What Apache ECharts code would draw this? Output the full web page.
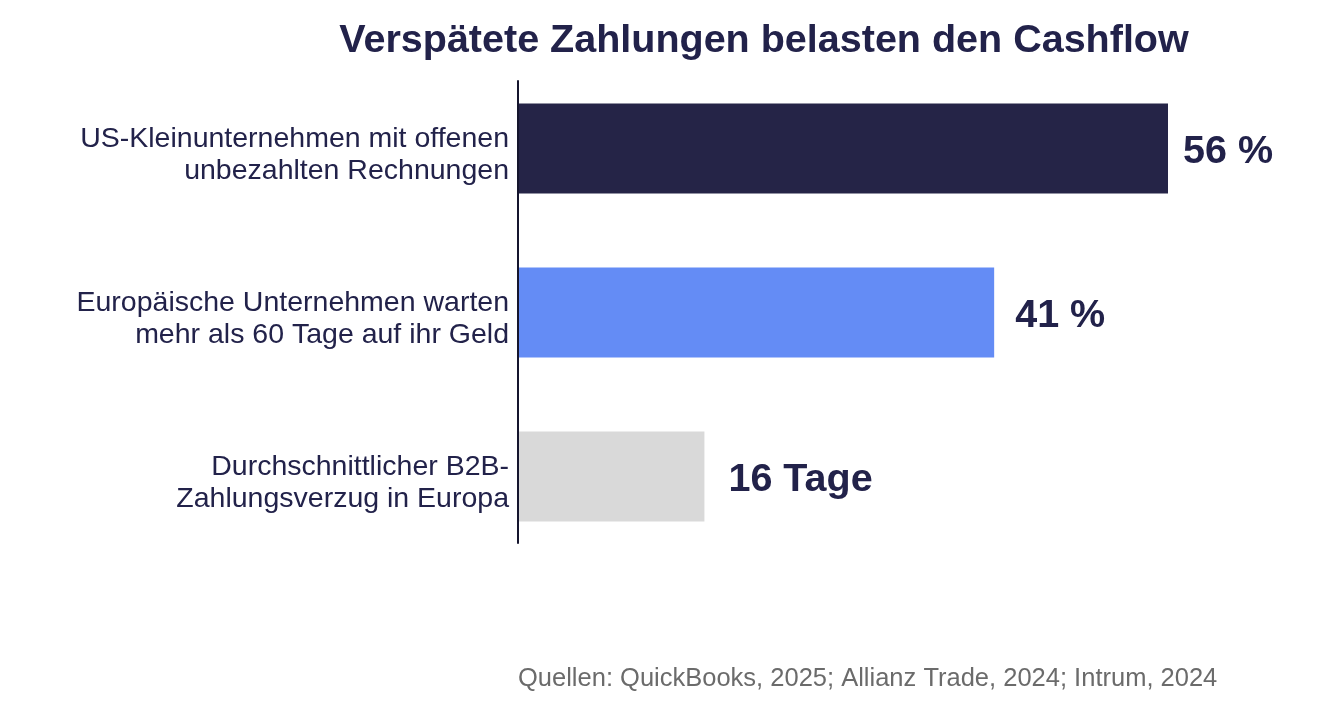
<!DOCTYPE html>
<html>
<head>
<meta charset="utf-8">
<script src="https://cdn.jsdelivr.net/npm/echarts@6/dist/echarts.min.js"></script>
<style>html,body{margin:0;padding:0;background:#fff;}#c{width:1324px;height:705px;}</style>
</head>
<body>
<div id="c"></div>
<script>
var categories = [
  'US-Kleinunternehmen mit offenen\nunbezahlten Rechnungen',
  'Europäische Unternehmen warten\nmehr als 60 Tage auf ihr Geld',
  'Durchschnittlicher B2B-\nZahlungsverzug in Europa'
];
var values = [56, 41, 16];
var valueLabels = ['56 %', '41 %', '16 Tage'];
var title = 'Verspätete Zahlungen belasten den Cashflow';
var source = 'Quellen: QuickBooks, 2025; Allianz Trade, 2024; Intrum, 2024';

var barColors = ['#252447', '#648cf5', '#d9d9d9'];
var labelDistances = [15, 21, 24];
var textColor = '#22224a';
var font = '"Liberation Sans", Arial, sans-serif';

var chart = echarts.init(document.getElementById('c'), null, {renderer: 'canvas'});
var seriesData = values.map(function (v, i) {
  return {
    value: v,
    itemStyle: {color: barColors[i]},
    label: {distance: labelDistances[i]}
  };
});
var gridRight = 1324 - 519 - 60 * (1168 - 519) / 56;

chart.setOption({
  backgroundColor: '#ffffff',
  animation: false,
  title: [{
    text: title,
    left: 764, top: 21, textAlign: 'center', padding: 0,
    textStyle: {fontFamily: font, fontSize: 39.5, fontWeight: 'bold', color: textColor}
  }, {
    text: source,
    left: 518, top: 666, padding: 0,
    textStyle: {fontFamily: font, fontSize: 25.5, fontWeight: 'normal', color: '#6b6b6b'}
  }],
  grid: [
    {left: 519, right: gridRight, top: 66.5, bottom: 146.5},
    {left: 518, right: gridRight, top: 81, bottom: 162},
    {left: 519, right: gridRight, top: 73.5, bottom: 139.5}
  ],
  xAxis: [
    {type: 'value', gridIndex: 0, min: 0, max: 60, show: false},
    {type: 'value', gridIndex: 1, min: 0, max: 60, show: false},
    {type: 'value', gridIndex: 2, min: 0, max: 60, show: false}
  ],
  yAxis: [
    {
      type: 'category', gridIndex: 0, inverse: true, data: categories,
      axisLine: {show: false}, axisTick: {show: false}, axisLabel: {show: false}
    },
    {
      type: 'category', gridIndex: 1, data: [''],
      axisLine: {show: true, lineStyle: {color: '#15152e', width: 2}},
      axisTick: {show: false}, axisLabel: {show: false}
    },
    {
      type: 'category', gridIndex: 2, inverse: true, data: categories,
      axisLine: {show: false}, axisTick: {show: false},
      axisLabel: {
        fontFamily: font, fontSize: 28.5, color: textColor, lineHeight: 32,
        align: 'right', margin: 10
      }
    }
  ],
  series: [{
    type: 'bar', xAxisIndex: 0, yAxisIndex: 0,
    data: seriesData,
    barWidth: 90,
    label: {
      show: true, position: 'right', offset: [0, 4],
      formatter: function (p) { return valueLabels[p.dataIndex]; },
      fontFamily: font, fontSize: 39.5, fontWeight: 'bold', color: textColor
    }
  }]
});
</script>
</body>
</html>
